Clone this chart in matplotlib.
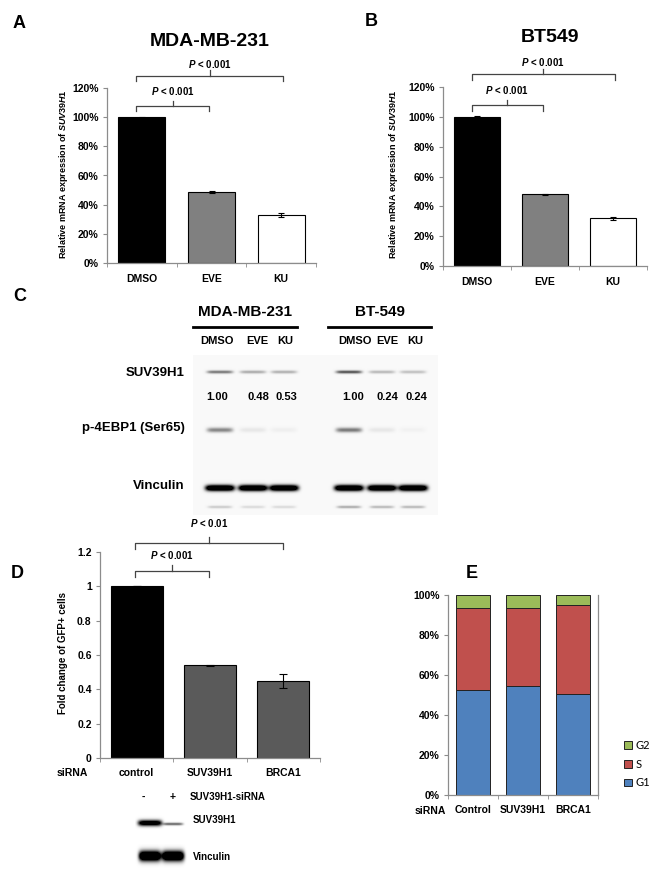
import numpy as np
import matplotlib
matplotlib.use('Agg')
import matplotlib.pyplot as plt

W, H = 653, 871

# ---- data ----
treatments = ['DMSO', 'EVE', 'KU']
mda_mrna = [1.00, 0.485, 0.33]
mda_err = [0.004, 0.006, 0.015]
bt_mrna = [1.00, 0.48, 0.32]
bt_err = [0.003, 0.003, 0.01]
mrna_colors = ['black', '#808080', 'white']

sirnas = ['control', 'SUV39H1', 'BRCA1']
gfp_fold = [1.00, 0.54, 0.45]
gfp_err = [0.0, 0.004, 0.04]
gfp_colors = ['black', '#5a5a5a', '#5a5a5a']

cc_groups = ['Control', 'SUV39H1', 'BRCA1']
g1_pct = [52.5, 54.5, 50.5]
s_pct = [41.0, 39.0, 44.5]
g2_pct = [6.5, 6.5, 5.0]

# blot C: lanes MDA-MB-231 x3 then BT-549 x3
blot_lanes = ['DMSO', 'EVE', 'KU', 'DMSO', 'EVE', 'KU']
suv_quant = ['1.00', '0.48', '0.53', '1.00', '0.24', '0.24']
suv_band = [0.5, 0.3, 0.28, 0.65, 0.25, 0.22]
p4ebp1_band = [0.45, 0.07, 0.04, 0.5, 0.07, 0.03]
vinc_band = [1.0, 1.0, 1.0, 1.0, 1.0, 1.0]
vinc_lower = [0.18, 0.12, 0.12, 0.3, 0.25, 0.25]

# blot D: control (-), SUV39H1 siRNA (+)
kd_suv_band = [1.0, 0.45]
kd_vinc_band = [1.0, 1.0]

plt.rcParams['font.family'] = ['Liberation Sans', 'DejaVu Sans']
plt.rcParams['font.weight'] = 'bold'
plt.rcParams['mathtext.fontset'] = 'custom'
plt.rcParams['mathtext.it'] = 'Liberation Sans:italic:bold'
plt.rcParams['mathtext.rm'] = 'Liberation Sans:bold'
plt.rcParams['mathtext.bf'] = 'Liberation Sans:bold'

fig = plt.figure(figsize=(W / 100, H / 100), dpi=100)
ov = fig.add_axes([0, 0, 1, 1])
ov.set_axis_off()

grey = '#8c8c8c'


def px_axes(x0, y0, x1, y1):
    ax = fig.add_axes([x0 / W, 1 - y1 / H, (x1 - x0) / W, (y1 - y0) / H])
    ax.patch.set_alpha(0)
    return ax


def style_axes(ax, n, pad, right=False):
    ax.spines['top'].set_visible(False)
    ax.spines['right'].set_visible(right)
    for s in ax.spines.values():
        s.set_color(grey)
        s.set_linewidth(0.9)
    ax.set_xlim(-0.5, n - 0.5)
    ax.set_xticks(np.arange(n))
    ax.set_xticks(np.arange(n + 1) - 0.5, minor=True)
    ax.tick_params(axis='x', which='major', length=0, pad=pad, labelsize=7.5)
    ax.tick_params(axis='x', which='minor', length=3, color=grey)
    ax.tick_params(axis='y', length=3, color=grey, labelsize=7.5, pad=3)


def bracket(ax, x0, x1, y, label, h, ty):
    xm = (x0 + x1) / 2
    ax.plot([x0, x0, x1, x1], [y - h, y, y, y - h], color='#444', lw=0.9, clip_on=False)
    ax.plot([xm, xm], [y, y + h], color='#444', lw=0.9, clip_on=False)
    ax.text(xm, y + ty, label, ha='center', va='center', fontsize=7, clip_on=False)


def mrna_panel(ax, vals, errs):
    x = np.arange(len(treatments))
    ax.bar(x, vals, 0.67, color=mrna_colors, edgecolor='black', lw=0.8)
    ax.errorbar(x, vals, yerr=errs, fmt='none', ecolor='black', elinewidth=0.8,
                capsize=2.5, capthick=0.8)
    style_axes(ax, len(treatments), pad=8)
    ax.set_ylim(0, 1.2)
    yt = np.arange(0, 1.21, 0.2)
    ax.set_yticks(yt)
    ax.set_yticklabels([f'{int(round(t * 100))}%' for t in yt])
    ax.set_xticklabels(treatments)
    bracket(ax, -0.08, 0.97, 1.077, r'$\mathit{P}$ < 0.001', 0.035, 0.105)
    bracket(ax, -0.08, 2.03, 1.285, r'$\mathit{P}$ < 0.001', 0.035, 0.08)


# ---- A / B ----
axa = px_axes(107, 88, 316, 263)
mrna_panel(axa, mda_mrna, mda_err)
axb = px_axes(443, 87, 647, 266)
mrna_panel(axb, bt_mrna, bt_err)

ylab = r'Relative mRNA expression of $\mathit{SUV39H1}$'
ov.text(63, 174, ylab, rotation=90, ha='center', va='center', fontsize=6.5)
ov.text(393, 174, ylab, rotation=90, ha='center', va='center', fontsize=6.5)
ov.text(210, 42, 'MDA-MB-231', ha='center', va='center', fontsize=14)
ov.text(550, 38, 'BT549', ha='center', va='center', fontsize=14)

# ---- D ----
axd = px_axes(100, 552, 320, 758)
xd = np.arange(len(sirnas))
axd.bar(xd, gfp_fold, 0.71, color=gfp_colors, edgecolor='black', lw=0.8)
axd.errorbar(xd, gfp_fold, yerr=gfp_err, fmt='none', ecolor='black', elinewidth=0.8,
             capsize=3, capthick=0.8)
style_axes(axd, len(sirnas), pad=7)
axd.set_ylim(0, 1.2)
axd.set_yticks(np.arange(0, 1.21, 0.2))
axd.set_yticklabels(['0', '0.2', '0.4', '0.6', '0.8', '1', '1.2'])
axd.set_xticklabels(sirnas)
bracket(axd, -0.02, 0.99, 1.089, r'$\mathit{P}$ < 0.001', 0.035, 0.095)
bracket(axd, -0.02, 2.0, 1.252, r'$\mathit{P}$ < 0.01', 0.035, 0.115)
ov.text(63, 653, 'Fold change of GFP+ cells', rotation=90, ha='center', va='center', fontsize=7)
ov.text(72, 773, 'siRNA', ha='center', va='center', fontsize=7.5)

# ---- E ----
axe = px_axes(448, 595, 598, 795)
xe = np.arange(len(cc_groups))
b1 = axe.bar(xe, g1_pct, 0.67, color='#4f81bd', edgecolor='#222', lw=0.7, label='G1')
b2 = axe.bar(xe, s_pct, 0.67, bottom=g1_pct, color='#c0504d', edgecolor='#222', lw=0.7, label='S')
b3 = axe.bar(xe, g2_pct, 0.67, bottom=np.add(g1_pct, s_pct), color='#9bbb59',
             edgecolor='#222', lw=0.7, label='G2')
style_axes(axe, len(cc_groups), pad=7, right=True)
axe.set_ylim(0, 100)
axe.set_yticks(np.arange(0, 101, 20))
axe.set_yticklabels([f'{v}%' for v in range(0, 101, 20)])
axe.set_xticklabels(cc_groups)
ov.text(430, 811, 'siRNA', ha='center', va='center', fontsize=7.5)
axe.legend([b3, b2, b1], ['G2', 'S', 'G1'], loc='center left',
           bbox_to_anchor=(614 / W, 1 - 764 / H), bbox_transform=fig.transFigure,
           frameon=False, handlelength=0.7, handleheight=0.7, handletextpad=0.3,
           labelspacing=0.7, prop={'family': 'Lato', 'weight': 'normal', 'size': 8})

# ---- panel letters ----
for lab, x, y in [('A', 19, 24), ('B', 371, 22), ('C', 20, 296), ('D', 17, 573), ('E', 472, 573)]:
    ov.text(x, y, lab, ha='center', va='center', fontsize=13)


# ---- western blots ----
def blot(x0, x1, y0, y1, bands, bg):
    xs = np.arange(x0, x1) + 0.5
    ys = np.arange(y0, y1) + 0.5
    xx, yy = np.meshgrid(xs, ys)
    img = np.full(xx.shape, bg)
    for cx, cy, amp, hw, sy in bands:
        img += amp * np.exp(-((xx - cx) / hw) ** 6) * np.exp(-((yy - cy) / sy) ** 2)
    ov.imshow(np.clip(img, 0, 1), cmap='gray_r', vmin=0, vmax=1, extent=(x0, x1, y1, y0),
              aspect='auto', interpolation='bilinear')


lane_x = [220, 253, 284, 349, 382, 413]
bands_c = []
for i, cx in enumerate(lane_x):
    bands_c.append((cx, 372, suv_band[i], 13, 1.6))
    bands_c.append((cx, 430, p4ebp1_band[i], 13, 2.4))
    bands_c.append((cx, 488, 1.6 * vinc_band[i], 14.5, 3.0))
    bands_c.append((cx, 507, vinc_lower[i], 12, 1.4))
blot(193, 438, 355, 515, bands_c, 0.025)

for cx, cy, txt in [(245, 312, 'MDA-MB-231'), (380, 312, 'BT-549')]:
    ov.text(cx, cy, txt, ha='center', va='center', fontsize=11)
ov.plot([193, 297], [327, 327], color='black', lw=2)
ov.plot([328, 431], [327, 327], color='black', lw=2)
lab_x = [217, 257, 285, 355, 387, 415]
num_x = [217, 258, 286, 353, 387, 416]
for i in range(len(blot_lanes)):
    ov.text(lab_x[i], 341, blot_lanes[i], ha='center', va='center', fontsize=8)
    ov.text(num_x[i], 397, suv_quant[i], ha='center', va='center', fontsize=8)
for y, txt in [(373, 'SUV39H1'), (428, 'p-4EBP1 (Ser65)'), (486, 'Vinculin')]:
    ov.text(185, y, txt, ha='right', va='center', fontsize=9.5)

# knockdown blot under D
kd_x = [150, 173]
blot(135, 190, 812, 834, [(kd_x[0], 823, 1.3 * kd_suv_band[0], 12, 3.0),
                          (kd_x[1], 824, 1.3 * kd_suv_band[1], 10, 1.4)], 0.0)
blot(135, 190, 844, 868, [(kd_x[0], 856, 1.8 * kd_vinc_band[0], 11, 5.0),
                          (kd_x[1], 856, 1.8 * kd_vinc_band[1], 11, 5.0)], 0.0)
ov.text(143, 797, '-', ha='center', va='center', fontsize=7.5)
ov.text(173, 797, '+', ha='center', va='center', fontsize=7.5)
ov.text(190, 797, 'SUV39H1-siRNA', ha='left', va='center', fontsize=7)
ov.text(193, 820, 'SUV39H1', ha='left', va='center', fontsize=7)
ov.text(193, 857, 'Vinculin', ha='left', va='center', fontsize=7)

ov.set_xlim(0, W)
ov.set_ylim(H, 0)

fig.savefig('out.png', dpi=100)
